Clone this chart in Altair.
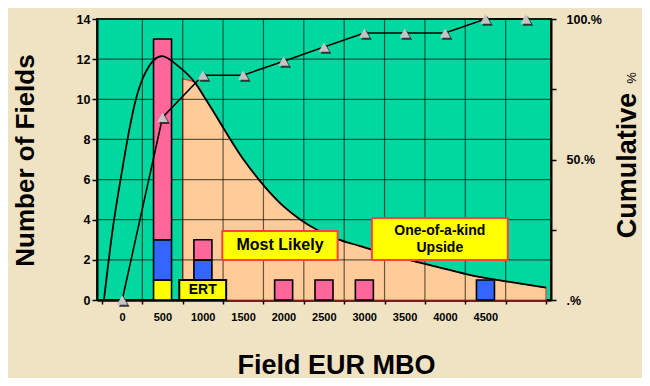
import altair as alt
import pandas as pd

# ---------------- data ----------------
x_labels = [0, 500, 1000, 1500, 2000, 2500, 3000, 3500, 4000, 4500]
y_ticks = [0, 2, 4, 6, 8, 10, 12, 14]
cum_ticks = [0, 25, 50, 75, 100]

bar_x = [500, 500, 500, 1000, 1000, 1000, 2000, 2500, 3000, 4500]
bar_type = ["yellow", "blue", "pink", "yellow", "blue", "pink", "pink", "pink", "pink", "blue"]
bar_count = [1, 2, 10, 1, 1, 1, 1, 1, 1, 1]
type_names = ["yellow", "blue", "pink"]
type_colors = ["#FFFF00", "#3366FF", "#FF6699"]

cum_x = [0, 500, 1000, 1500, 2000, 2500, 3000, 3500, 4000, 4500, 5000]
cum_pct = [0, 65, 80, 80, 85, 90, 95, 95, 95, 100, 100]

curve_x = [-226, -113, 1, 89, 170, 291, 493, 695, 897, 1058, 1503, 1765, 2003,
           2209, 2411, 2694, 2936, 3100, 3400, 3700, 4000, 4300, 4800, 5250]
curve_y = [0, 3.65, 6.5, 8.5, 10, 11.35, 12.15, 11.65, 10.85, 9.85, 7.0, 5.65, 4.65,
           4.0, 3.5, 3.0, 2.7, 2.5, 2.15, 1.85, 1.55, 1.25, 0.9, 0.62]
area_start_x = 750
area_start_y = 11.0

box_label = ["ERT", "Most Likely", "One-of-a-kind\nUpside"]
box_x0 = [707, 1240, 3093]
box_x1 = [1288, 2669, 4777]
box_y0 = [0, 1.99, 1.99]
box_y1 = [1, 3.44, 4.09]
box_text_y = [0.5, 2.72, 3.44]
box_border = ["#000000", "#FF4040", "#FF4040"]
box_font = [14, 16, 14]

pct_label = ["%"]
pct_x = [6360]
pct_y = [79]

FONT = "Liberation Sans"
XDOM = [-250, 5250]

# ---------------- tables ----------------
bars_df = pd.DataFrame({"x": bar_x, "type": bar_type, "n": bar_count,
                        "rank": [type_names.index(t) for t in bar_type]})
cum_df = pd.DataFrame({"x": cum_x, "cum": cum_pct})
curve_df = pd.DataFrame({"x": curve_x, "y": curve_y})
area_df = pd.DataFrame({"x": [area_start_x] + [a for a in curve_x if a > area_start_x],
                        "y": [area_start_y] + [b for a, b in zip(curve_x, curve_y) if a > area_start_x]})
boxes_df = pd.DataFrame({"label": box_label, "x0": box_x0, "x1": box_x1, "y0": box_y0,
                         "y1": box_y1, "ty": box_text_y, "border": box_border, "fs": box_font})
boxes_df["xc"] = (boxes_df.x0 + boxes_df.x1) / 2
vgrid_df = pd.DataFrame({"x": [v + 250 for v in x_labels]})
hgrid_df = pd.DataFrame({"y": y_ticks[1:-1]})
pct_df = pd.DataFrame({"t": pct_label, "x": pct_x, "cum": pct_y})

xscale = alt.Scale(domain=XDOM, nice=False, zero=False)
yscale = alt.Scale(domain=[0, 14], nice=False)
cscale = alt.Scale(domain=[0, 100], nice=False)

x_axis = alt.Axis(
    values=[XDOM[0]] + [v + 250 for v in x_labels] + [XDOM[1]],
    labelExpr="datum.value + 250 <= 4500 ? format(datum.value + 250, 'd') : ''",
    labelOffset=20, labelOverlap=False, labelFlush=False, labelFontSize=11,
    tickSize=4, labelPadding=7, grid=False, domainWidth=2.5, domainColor="#000000",
    title="Field EUR MBO", titleFontSize=27, titleX=239, titleY=73,
    titleBaseline="alphabetic", titleAlign="center",
)
y_axis = alt.Axis(
    values=y_ticks, grid=False, orient="left", tickSize=5, labelPadding=2,
    labelFontSize=12.5, domainWidth=2, domainColor="#000000",
    title="Number of Fields", titleFontSize=26, titleAngle=270, titleX=-64, titleY=141,
    titleBaseline="alphabetic", titleAlign="center",
)
c_axis = alt.Axis(
    values=cum_ticks, grid=False, orient="right", tickSize=5, labelPadding=10,
    labelFontSize=12.5, domainWidth=2, domainColor="#000000",
    labelExpr="datum.value == 0 ? '.%' : (datum.value % 50 == 0 ? datum.value + '.%' : '')",
    title="Cumulative", titleFontSize=27, titleAngle=270, titleX=84, titleY=146,
    titleBaseline="alphabetic", titleAlign="center",
)


def X(f):
    return alt.X(f, scale=xscale, axis=x_axis)


def Y(f, **kw):
    return alt.Y(f, scale=yscale, axis=y_axis, **kw)


def C(f):
    return alt.Y(f, scale=cscale, axis=c_axis)


area = alt.Chart(area_df).mark_area(
    color="#FFCC99", stroke="#FF3333", strokeWidth=1.2, interpolate="monotone"
).encode(x=X("x:Q"), y=Y("y:Q"))

vgrid = alt.Chart(vgrid_df).mark_rule(color="#000000", opacity=0.6, strokeWidth=1.2).encode(
    x=X("x:Q"),
)
hgrid = alt.Chart(hgrid_df).mark_rule(color="#000000", opacity=0.6, strokeWidth=1.2).encode(
    y=Y("y:Q"),
)

bars = alt.Chart(bars_df).mark_bar(size=18, stroke="#000000", strokeWidth=1.6).encode(
    x=X("x:Q"),
    y=Y("n:Q", stack="zero"),
    color=alt.Color("type:N", scale=alt.Scale(domain=type_names, range=type_colors), legend=None),
    order=alt.Order("rank:Q", sort="ascending"),
)

curve = alt.Chart(curve_df).mark_line(color="#000000", strokeWidth=1.8, interpolate="monotone").encode(
    x=X("x:Q"), y=Y("y:Q"),
)

boxes = alt.Chart(boxes_df).mark_rect(fill="#FFFF00", strokeWidth=2).encode(
    x=X("x0:Q"), x2="x1:Q",
    y=Y("y0:Q"), y2="y1:Q",
    stroke=alt.Stroke("border:N", scale=None),
)
box_text = alt.Chart(boxes_df).mark_text(
    font=FONT, fontWeight="bold", color="#000000", baseline="middle", align="center",
    lineBreak="\n", lineHeight=17,
).encode(
    x=X("xc:Q"), y=Y("ty:Q"),
    text="label:N",
    size=alt.Size("fs:Q", scale=None),
)

left = alt.layer(area, vgrid, hgrid, bars, curve, boxes, box_text)

cum_line = alt.Chart(cum_df).mark_line(color="#000000", strokeWidth=1.6).encode(
    x=X("x:Q"), y=C("cum:Q"),
)
cum_shadow = alt.Chart(cum_df).mark_point(
    shape="triangle-up", filled=True, size=115, color="#333333", opacity=1, xOffset=2, yOffset=2
).encode(x=X("x:Q"), y=C("cum:Q"))
cum_pts = alt.Chart(cum_df).mark_point(
    shape="triangle-up", filled=True, size=115, color="#C4C4C4", opacity=1
).encode(x=X("x:Q"), y=C("cum:Q"))
pct = alt.Chart(pct_df).mark_text(
    font=FONT, fontSize=13, angle=270, align="center", baseline="alphabetic", color="#000000"
).encode(x=X("x:Q"), y=C("cum:Q"), text="t:N")

right = alt.layer(cum_line, cum_shadow, cum_pts, pct)

chart = alt.layer(left, right).resolve_scale(y="independent").properties(
    width=454, height=281,
    autosize=alt.AutoSizeParams(type="none"),
    padding={"left": 89, "top": 11, "right": 91, "bottom": 78},
    background="#F0E3C3",
).configure_view(
    fill="#00D8A0", stroke="#1A1A1A", strokeWidth=2,
).configure_axis(
    labelFont=FONT, labelFontWeight="bold", labelColor="#000000",
    titleFont=FONT, titleFontWeight="bold", titleColor="#000000",
    tickColor="#000000", tickWidth=1.5,
)

chart.save("out.html", embed_options={"renderer": "svg", "actions": False})
